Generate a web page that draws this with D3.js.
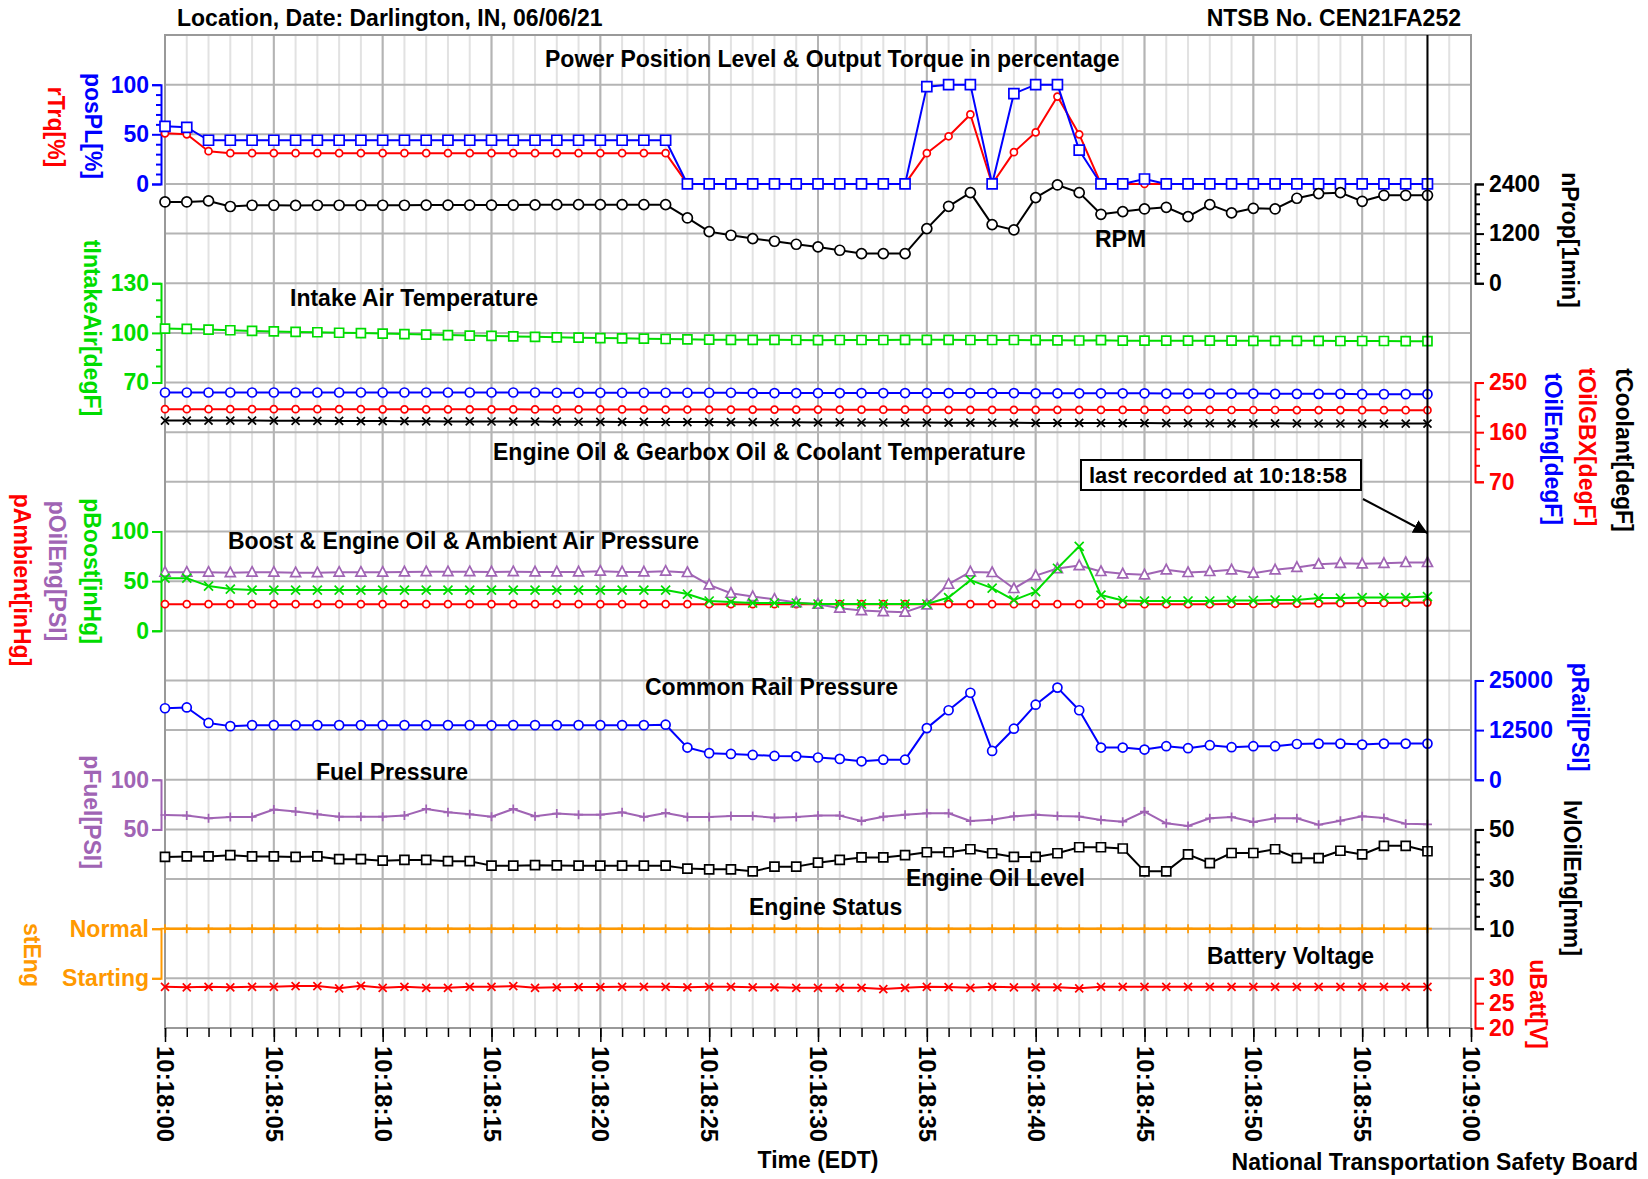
<!DOCTYPE html>
<html><head><meta charset="utf-8">
<script src="https://cdn.jsdelivr.net/npm/d3@7"></script>
<style>
body{margin:0;background:#fff;}
svg text{font-family:"Liberation Sans",Arial,sans-serif;font-weight:bold;}
</style></head><body>
<svg id="c" width="1648" height="1179"></svg>
<script>
// ---------------- DATA ----------------
const seconds = [0,1,2,3,4,5,6,7,8,9,10,11,12,13,14,15,16,17,18,19,20,21,22,23,24,25,26,27,28,29,30,31,32,33,34,35,36,37,38,39,40,41,42,43,44,45,46,47,48,49,50,51,52,53,54,55,56,57,58];
const timeTickValues = [0,5,10,15,20,25,30,35,40,45,50,55,60];
const timeTickLabels = ["10:18:00","10:18:05","10:18:10","10:18:15","10:18:20","10:18:25","10:18:30","10:18:35","10:18:40","10:18:45","10:18:50","10:18:55","10:19:00"];
const lastRecordedSecond = 58;

const posPL = [58,57,44,44,44,44,44,44,44,44,44,44,44,44,44,44,44,44,44,44,44,44,44,44,0,0,0,0,0,0,0,0,0,0,0,98,100,100,0,91,100,100,34,0,0,5,0,0,0,0,0,0,0,0,0,0,0,0,0];
const rTrq = [51,50,33,31,31,31,31,31,31,31,31,31,31,31,31,31,31,31,31,31,31,31,31,31,0,0,0,0,0,0,0,0,0,0,0,31,48,70,0,32,52,88,50,0,0,0,0,0,0,0,0,0,0,0,0,0,0,0,0];
const nProp = [1965,1965,1990,1855,1885,1885,1880,1885,1885,1885,1885,1885,1890,1890,1890,1890,1890,1895,1900,1900,1900,1900,1900,1900,1578,1248,1160,1079,1015,942,878,797,717,717,717,1321,1860,2190,1417,1289,2070,2376,2190,1667,1732,1796,1836,1611,1900,1700,1812,1796,2054,2167,2190,1981,2126,2126,2126];
const tIntakeAir = [102.6,102.4,102.0,101.6,101.2,100.9,100.6,100.4,100.1,99.9,99.6,99.3,99.0,98.7,98.4,98.2,97.9,97.6,97.3,97.1,96.9,96.7,96.5,96.3,96.1,95.9,95.8,95.8,95.8,95.7,95.6,95.7,95.7,95.7,95.8,95.8,95.8,95.7,95.7,95.7,95.6,95.5,95.4,95.6,95.3,95.3,95.3,95.3,95.3,95.3,95.2,95.2,95.2,95.2,95.1,95.1,95.1,95.0,95.0];
const tOilEng = [232,232,232,232,232,232,232,232,232,232,232,232,232,232,232,232,232,232,231.5,231.5,231.5,231.5,231.5,231.5,231.5,231.5,231.5,231,231,231,231,231,231,231,231,231,231,231,231,231,230.5,230.5,230.5,230.5,230.5,230.5,230,230,230,230,230,229.5,229.5,229.5,229.5,229,229,229,229];
const tOilGBX = [201.7,201.7,201.7,201.7,201.7,201.7,201.7,201.7,201.7,201.7,201.5,201.5,201.5,201.5,201.5,201.5,201.5,201.3,201.3,201.3,201.3,201.3,201.1,201.1,201.1,201.1,201,201,201,201,201,200.8,200.8,200.8,200.8,200.8,200.6,200.6,200.6,200.6,200.5,200.5,200.5,200.4,200.4,200.4,200.3,200.3,200.3,200.2,200.2,200.2,200.1,200.1,200.1,200,200,200,200];
const tCoolant = [181.1,181.1,181,181,181,180.8,180.6,180.6,180.4,180.2,180.1,180,179.8,179.6,179.5,179.4,179.3,179.2,179,178.9,178.8,178.7,178.6,178.5,178.4,178.3,178.2,178.1,178,177.9,177.8,177.7,177.6,177.6,177.5,177.4,177.3,177.2,177.1,177,176.9,176.9,176.8,176.7,176.6,176.5,176.4,176.3,176.2,176.1,176,176,175.9,175.8,175.8,175.7,175.7,175.6,175.6];
const pBoost = [53,53,45,42,41,41,41,41,41,41,41,41,41,41,41,41,41,41,41,41,41,41,41,41,37,30,29,28,28,28,27,27,27,27,27,27,33.5,51,43,31,39.5,63,85,36,30.5,30,30,30,30,30.5,30.5,31,31,33,33,33.5,33.5,33.5,34.5];
const pOilEng = [59,59,59,58.5,59,59,58.5,58.5,59,59,59,59.3,59.5,59.5,59.5,59.3,59.5,59.3,59.3,59.3,60,59.3,59.3,60,58.7,46.2,37.8,34.5,31.8,28.4,26.8,22.8,20.4,19.4,18.8,26.2,46.9,59.3,58.7,42.6,55.6,62.7,65.7,59.7,57.4,56.4,61.4,58.7,59.7,61.4,58,61.4,63.8,67,68,67.4,68,68.8,68.8];
const pAmbient = [26.8,26.8,26.8,26.8,26.8,26.8,26.8,26.8,26.8,26.8,26.8,26.8,26.8,26.8,26.8,26.8,26.8,26.8,26.8,26.8,26.8,26.8,26.8,26.8,26.8,26.8,26.8,26.8,26.8,26.8,26.8,26.8,26.8,26.8,26.8,26.8,26.8,26.8,26.8,26.8,26.8,26.8,26.8,26.8,26.8,26.8,26.8,26.8,26.8,27,27,27.2,27.4,27.6,27.8,28,28,28.2,28.4];
const pRail = [18000,18200,14300,13500,13750,13750,13750,13750,13750,13750,13750,13750,13750,13750,13750,13700,13750,13750,13750,13750,13750,13750,13750,13860,8100,6700,6500,6250,6000,5900,5600,5250,4650,5050,5050,13000,17500,21900,7250,12850,18900,23200,17500,8100,8100,7600,8450,7950,8700,8200,8450,8450,9000,9100,9100,8850,9100,9100,9100];
const pFuel = [64.5,63.9,61.2,62.5,62.5,70,68,65.2,62.8,62.8,62.8,63.9,70.6,67.2,65.2,62.8,70.6,63.2,65.9,64.8,64.8,67.2,62.5,66.6,62.5,62.5,63.5,63.5,61.8,62.5,63.9,63.9,58.4,62.8,64.8,66.2,66.2,58.4,59.8,63.2,64.8,63.5,63,59.5,57.8,68,56.1,53.4,61.2,62.5,57.4,61.2,61.2,54.7,58.8,63.2,61.5,55.7,55.1];
const lvlOilEng = [38.9,39.1,39.1,39.6,39.1,39.1,38.9,39.1,38,38,37.4,37.7,37.7,37.2,37.2,35.4,35.4,35.6,35.5,35.4,35.4,35.4,35.4,35.4,34.2,33.9,33.9,33.1,35,35,36.6,37.7,38.7,38.7,39.6,40.8,40.8,42,40.4,38.9,38.9,40.4,42.8,42.8,42.3,33.1,33.1,39.9,36.4,40.5,40.5,42,38.4,38.4,41.4,39.9,43.4,43.4,41.2];
const engineStates = ["Starting","Normal"];
const stEng = [1,1,1,1,1,1,1,1,1,1,1,1,1,1,1,1,1,1,1,1,1,1,1,1,1,1,1,1,1,1,1,1,1,1,1,1,1,1,1,1,1,1,1,1,1,1,1,1,1,1,1,1,1,1,1,1,1,1,1];
const uBatt = [28.3,28.2,28.3,28.2,28.3,28.3,28.45,28.45,28.0,28.5,28.1,28.3,28.1,28.1,28.3,28.3,28.45,28.1,28.2,28.25,28.25,28.3,28.3,28.3,28.2,28.3,28.3,28.2,28.2,28.1,28.1,28.1,28.1,27.85,28.1,28.3,28.25,28.1,28.3,28.2,28.2,28.2,28.0,28.3,28.3,28.3,28.3,28.3,28.3,28.3,28.3,28.3,28.3,28.3,28.3,28.3,28.3,28.3,28.3];

// ---------------- LAYOUT ----------------
const BLUE="#0000FF", RED="#FF0000", GREEN="#00DC00", PURPLE="#A064B4", ORANGE="#FF9900", BLACK="#000000";
const plotL=165, plotR=1471, plotT=35, plotB=1028;
const rowH=(plotB-plotT)/20;
const yl = i => plotT + i*rowH;
const FS = 23;

const svg = d3.select("#c");
const x = d3.scaleLinear().domain([0,60]).range([plotL,plotR]);

const yPos = d3.scaleLinear().domain([0,100]).range([yl(3),yl(1)]);
const yRpm = d3.scaleLinear().domain([0,2400]).range([yl(5),yl(3)]);
const yIntake = d3.scaleLinear().domain([70,130]).range([yl(7),yl(5)]);
const yTemp = d3.scaleLinear().domain([70,250]).range([yl(9),yl(7)]);
const yPress = d3.scaleLinear().domain([0,100]).range([yl(12),yl(10)]);
const yRail = d3.scaleLinear().domain([0,25000]).range([yl(15),yl(13)]);
const yFuel = d3.scaleLinear().domain([50,100]).range([yl(16),yl(15)]);
const yLvl = d3.scaleLinear().domain([10,50]).range([yl(18),yl(16)]);
const yEng = d3.scaleLinear().domain([0,1]).range([yl(19),yl(18)]);
const yBatt = d3.scaleLinear().domain([20,30]).range([yl(20),yl(19)]);

// ---------------- GRID ----------------
const grid = svg.append("g");
grid.selectAll("line.minor").data(d3.range(0,61)).enter().append("line")
  .attr("x1",d=>x(d)).attr("x2",d=>x(d)).attr("y1",plotT).attr("y2",plotB)
  .attr("stroke","#E2E2E2").attr("stroke-width",2);
grid.selectAll("line.majv").data(d3.range(0,61,5)).enter().append("line")
  .attr("x1",d=>x(d)).attr("x2",d=>x(d)).attr("y1",plotT).attr("y2",plotB)
  .attr("stroke","#B4B4B4").attr("stroke-width",2);
grid.selectAll("line.majh").data(d3.range(0,21)).enter().append("line")
  .attr("x1",plotL).attr("x2",plotR).attr("y1",d=>yl(d)).attr("y2",d=>yl(d))
  .attr("stroke","#B4B4B4").attr("stroke-width",2);
svg.append("rect").attr("x",plotL).attr("y",plotT).attr("width",plotR-plotL).attr("height",plotB-plotT)
  .attr("fill","none").attr("stroke","#999").attr("stroke-width",2);

// ---------------- AXES (brackets) ----------------
function bracket(side, scale, majors, minors, color, fmt){
  const xp = side==="left" ? 161 : 1475;
  const mk = side==="left" ? d3.axisLeft : d3.axisRight;
  if(minors && minors.length){
    const ga = svg.append("g").attr("transform",`translate(${xp},0)`)
      .call(mk(scale).tickValues(minors).tickSize(5).tickSizeOuter(0).tickFormat(""));
    ga.select(".domain").remove();
    ga.selectAll("line").attr("stroke",color).attr("stroke-width",2);
  }
  const g = svg.append("g").attr("transform",`translate(${xp},0)`)
    .call(mk(scale).tickValues(majors).tickSize(9).tickSizeOuter(9).tickPadding(side==="left"?3:5).tickFormat(fmt||(d=>d)));
  g.select(".domain").attr("stroke",color).attr("stroke-width",2).attr("fill","none");
  g.selectAll("line").attr("stroke",color).attr("stroke-width",2);
  g.selectAll("text").attr("fill",color).style("font-size",FS+"px").style("font-family","'Liberation Sans',Arial,sans-serif").style("font-weight","bold");
}
bracket("left", yPos, [0,50,100], [10,20,30,40,60,70,80,90], BLUE);
bracket("right", yRpm, [0,1200,2400], [240,480,720,960,1440,1680,1920,2160], BLACK);
bracket("left", yIntake, [70,100,130], [80,90,110,120], GREEN);
bracket("right", yTemp, [70,160,250], [100,130,190,220], RED);
bracket("left", yPress, [0,50,100], [], GREEN);
bracket("right", yRail, [0,12500,25000], [], BLUE);
bracket("left", yFuel, [50,100], [], PURPLE);
bracket("right", yLvl, [10,30,50], [15,20,25,35,40,45], BLACK);
bracket("left", yEng, [0,1], [], ORANGE, d=>engineStates[d]);
bracket("right", yBatt, [20,25,30], [], RED);

// ---------------- X AXIS ----------------
const xMinor = svg.append("g").attr("transform",`translate(0,${plotB})`)
  .call(d3.axisBottom(x).tickValues(d3.range(0,61)).tickSize(9).tickFormat(""));
xMinor.select(".domain").remove();
xMinor.selectAll("line").attr("stroke","#000").attr("stroke-width",1.5);
const xMajor = svg.append("g").attr("transform",`translate(0,${plotB})`)
  .call(d3.axisBottom(x).tickValues(timeTickValues).tickSize(14).tickFormat((d,i)=>timeTickLabels[i]));
xMajor.select(".domain").remove();
xMajor.selectAll("line").attr("stroke","#000").attr("stroke-width",1.5);
xMajor.selectAll("text").attr("transform","rotate(90)").attr("x",18).attr("y",0).attr("dy","0.35em")
  .style("text-anchor","start").attr("fill","#000").style("font-size","24px")
  .style("font-family","'Liberation Sans',Arial,sans-serif").style("font-weight","bold");

// ---------------- SERIES ----------------
function markerPath(type, s){
  const h=s/2;
  if(type==="x") return `M${-h},${-h}L${h},${h}M${-h},${h}L${h},${-h}`;
  if(type==="plus") return `M${-h},0L${h},0M0,${-h}L0,${h}`;
  if(type==="tri") return `M0,${-h*1.1}L${h},${h*0.8}L${-h},${h*0.8}Z`;
  if(type==="square") return `M${-h},${-h}H${h}V${h}H${-h}Z`;
  return "";
}
function series(vals, yScale, color, marker, msize, lw){
  const data = seconds.map((t,i)=>({t, v: vals[i]}));
  const g = svg.append("g");
  g.append("path").datum(data)
    .attr("d", d3.line().x(d=>x(d.t)).y(d=>yScale(d.v)))
    .attr("fill","none").attr("stroke",color).attr("stroke-width",lw||2).attr("stroke-linejoin","round");
  if(marker==="circle"){
    g.selectAll("circle").data(data).enter().append("circle")
      .attr("cx",d=>x(d.t)).attr("cy",d=>yScale(d.v)).attr("r",msize/2)
      .attr("fill","#fff").attr("stroke",color).attr("stroke-width",1.7);
  } else {
    const filled = (marker==="square"||marker==="tri");
    g.selectAll("path.m").data(data).enter().append("path")
      .attr("transform",d=>`translate(${x(d.t)},${yScale(d.v)})`)
      .attr("d", markerPath(marker, msize))
      .attr("fill", filled?"#fff":"none").attr("stroke",color).attr("stroke-width",1.7);
  }
}
series(rTrq, yPos, RED, "circle", 7);
series(posPL, yPos, BLUE, "square", 10);
series(nProp, yRpm, BLACK, "circle", 10);
series(tIntakeAir, yIntake, GREEN, "square", 9);
series(tCoolant, yTemp, BLACK, "x", 8);
series(tOilGBX, yTemp, RED, "circle", 7);
series(tOilEng, yTemp, BLUE, "circle", 9);
series(pAmbient, yPress, RED, "circle", 7);
series(pOilEng, yPress, PURPLE, "tri", 10);
series(pBoost, yPress, GREEN, "x", 9);
series(pRail, yRail, BLUE, "circle", 9);
series(pFuel, yFuel, PURPLE, "plus", 9);
series(lvlOilEng, yLvl, BLACK, "square", 9);
series(stEng, yEng, ORANGE, "plus", 9, 2.5);
series(uBatt, yBatt, RED, "x", 8);

// last recorded line
svg.append("line").attr("x1",x(lastRecordedSecond)).attr("x2",x(lastRecordedSecond))
  .attr("y1",plotT).attr("y2",plotB).attr("stroke","#000").attr("stroke-width",2);

// ---------------- TEXTS ----------------
function txt(s, px, py, anchor, color, size){
  return svg.append("text").attr("x",px).attr("y",py).attr("text-anchor",anchor||"start")
    .attr("dominant-baseline","central").attr("fill",color||"#000").style("font-size",(size||FS)+"px").text(s);
}
function vtxt(s, px, py, color){
  return svg.append("text").attr("transform",`translate(${px},${py}) rotate(90)`)
    .attr("text-anchor","middle").attr("dominant-baseline","central")
    .attr("fill",color).style("font-size",FS+"px").text(s);
}
txt("Location, Date: Darlington, IN, 06/06/21", 177, 18);
txt("NTSB No. CEN21FA252", 1461, 18, "end");
txt("Power Position Level & Output Torque in percentage", 545, 59);
txt("RPM", 1095, 239);
txt("Intake Air Temperature", 290, 298);
txt("Engine Oil & Gearbox Oil & Coolant Temperature", 493, 452);
txt("Boost & Engine Oil & Ambient Air Pressure", 228, 541);
txt("Common Rail Pressure", 645, 687);
txt("Fuel Pressure", 316, 772);
txt("Engine Oil Level", 906, 878);
txt("Engine Status", 749, 907);
txt("Battery Voltage", 1207, 956);
txt("Time (EDT)", 818, 1160, "middle");
txt("National Transportation Safety Board", 1638, 1162, "end");

// annotation
svg.append("rect").attr("x",1081).attr("y",460).attr("width",280).attr("height",30)
  .attr("fill","#fff").attr("stroke","#000").attr("stroke-width",2);
txt("last recorded at 10:18:58", 1089, 475, "start", "#000", 22);
svg.append("defs").append("marker").attr("id","ah").attr("viewBox","0 0 10 10").attr("refX",10).attr("refY",5)
  .attr("markerWidth",7).attr("markerHeight",7).attr("orient","auto")
  .append("path").attr("d","M0,0L10,5L0,10Z").attr("fill","#000");
svg.append("line").attr("x1",1363).attr("y1",499).attr("x2",x(lastRecordedSecond)).attr("y2",533)
  .attr("stroke","#000").attr("stroke-width",2).attr("marker-end","url(#ah)");

// axis titles
vtxt("rTrq[%]", 56, 127, RED);
vtxt("posPL[%]", 93, 126, BLUE);
vtxt("tIntakeAir[degF]", 92, 328, GREEN);
vtxt("pAmbient[inHg]", 22, 580, RED);
vtxt("pOilEng[PSI]", 57, 571, PURPLE);
vtxt("pBoost[inHg]", 92, 571, GREEN);
vtxt("pFuel[PSI]", 92, 812, PURPLE);
vtxt("stEng", 32, 955, ORANGE);
vtxt("nProp[1min]", 1570, 240, BLACK);
vtxt("tOilEng[degF]", 1553, 449, BLUE);
vtxt("tOilGBX[degF]", 1587, 447, RED);
vtxt("tCoolant[degF]", 1624, 450, BLACK);
vtxt("pRail[PSI]", 1580, 717, BLUE);
vtxt("lvlOilEng[mm]", 1572, 878, BLACK);
vtxt("uBatt[V]", 1538, 1004, RED);
</script>
</body></html>
